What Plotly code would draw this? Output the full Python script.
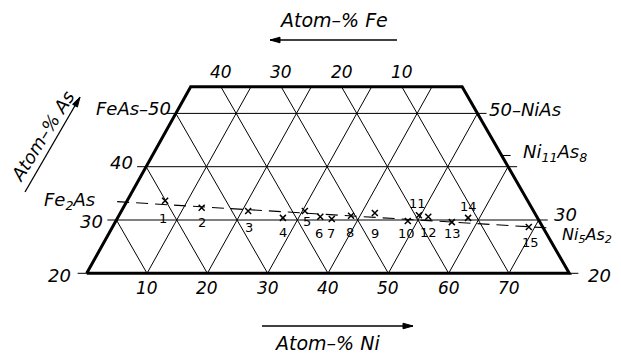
import plotly.graph_objects as go

# ---------------- data (atom-%) ----------------
point_labels = ["1", "2", "3", "4", "5", "6", "7", "8", "9", "10", "11", "12", "13", "14", "15"]
point_ni = [6.3, 13.0, 21.0, 27.4, 30.4, 33.5, 35.6, 38.5, 42.2, 48.4, 49.7, 51.4, 55.8, 58.1, 69.0]
point_as = [33.6, 32.3, 31.7, 30.4, 31.7, 30.6, 30.2, 30.8, 31.3, 29.8, 30.9, 30.6, 29.6, 30.4, 28.7]

as_ticks = [20, 30, 40, 50]
ni_ticks = [10, 20, 30, 40, 50, 60, 70]
fe_ticks = [40, 30, 20, 10]
grid_ni = [10, 20, 30, 40, 50, 60, 70]
grid_fe = [10, 20, 30, 40, 50, 60, 70]
as_min, as_max = 20, 55

fe2as = (0.0, 100 / 3)        # (Ni, As)
ni5as2 = (500 / 7, 200 / 7)
ni11as8 = (1100 / 19, 800 / 19)

# ---------------- layout helpers ----------------
SKEW = 0.4925   # horizontal shift of the As direction (display)
EXT = 1.5       # tick extension beyond edges (x units)
OFF = 8         # page body margin
W, H = 621 - OFF, 353 - OFF


def X(ni, a):
    return ni + SKEW * a


def P(px, py):
    """page pixel -> paper coords"""
    return (px - OFF) / W, 1 - (py - OFF) / H


fig = go.Figure()

# grid lines
gx, gy = [], []
for ni in grid_ni:
    top = min(as_max, 100 - ni)
    gx += [X(ni, as_min), X(ni, top), None]
    gy += [as_min, top, None]
for fe in grid_fe:
    top = min(as_max, 100 - fe)
    gx += [X(100 - fe - as_min, as_min), X(100 - fe - top, top), None]
    gy += [as_min, top, None]
for a in as_ticks:
    gx += [X(0, a) - EXT, X(100 - a, a) + EXT, None]
    gy += [a, a, None]
gx += [X(ni11as8[0], ni11as8[1]), X(ni11as8[0], ni11as8[1]) + EXT, None]
gy += [ni11as8[1], ni11as8[1], None]
fig.add_trace(go.Scatter(x=gx, y=gy, mode="lines", line=dict(color="black", width=1),
                         hoverinfo="skip", showlegend=False))

# boundary
bn = [0, 100 - as_min, 100 - as_max, 0, 0]
ba = [as_min, as_min, as_max, as_max, as_min]
fig.add_trace(go.Scatter(x=[X(n, a) for n, a in zip(bn, ba)], y=ba, mode="lines",
                         line=dict(color="black", width=3), hoverinfo="skip", showlegend=False))

# dashed tie line Fe2As - Ni5As2
ts = [-0.022, 1.012]
dx = [X(fe2as[0] + t * (ni5as2[0] - fe2as[0]), fe2as[1] + t * (ni5as2[1] - fe2as[1])) for t in ts]
dy = [fe2as[1] + t * (ni5as2[1] - fe2as[1]) for t in ts]
fig.add_trace(go.Scatter(x=dx, y=dy, mode="lines", line=dict(color="black", width=1.1, dash="12px,7px"),
                         hoverinfo="skip", showlegend=False))

# sample points
fig.add_trace(go.Scatter(x=[X(n, a) for n, a in zip(point_ni, point_as)], y=point_as, mode="markers",
                         marker=dict(symbol="x-thin", size=6, line=dict(color="black", width=1.5)),
                         showlegend=False))

ann = []
FONT = dict(family="DejaVu Sans", color="black")

# point labels
lab_dy = [-18, -15, -17, -15, -11, -17, -15, -17, -20, -12, 12, -16, -11, 11, -16]
lab_dx = [-2, 0, 1, 0, 2, -1, -1, -1, 0, -1, -1, 0, 1, 0, 2]
for t, n, a, sy, sx in zip(point_labels, point_ni, point_as, lab_dy, lab_dx):
    ann.append(dict(x=X(n, a), y=a, text=t, showarrow=False, yshift=sy, xshift=sx,
                    font=dict(size=13, **FONT)))

# bottom Ni ticks
for n in ni_ticks:
    ann.append(dict(x=X(n, as_min), y=as_min, text=f"<i>{n}</i>", showarrow=False, yshift=-15,
                    font=dict(size=17, **FONT)))
# top Fe ticks
for fe in fe_ticks:
    ann.append(dict(x=X(100 - fe - as_max, as_max), y=as_max, text=f"<i>{fe}</i>", showarrow=False,
                    yshift=15, font=dict(size=17, **FONT)))
# left As ticks
left_txt = {20: "20", 30: "30", 40: "40", 50: "FeAs–50"}
left_dx = {20: -14, 30: -11, 40: -11, 50: -3}
left_dy = {20: -2, 30: -1, 40: 4, 50: 5}
for a in as_ticks:
    ann.append(dict(x=X(0, a), y=a, text=f"<i>{left_txt[a]}</i>", showarrow=False, xanchor="right",
                    xshift=left_dx[a], yshift=left_dy[a], font=dict(size=18, **FONT)))
# right labels
ann.append(dict(x=X(50, 50), y=50, text="<i>50–NiAs</i>", showarrow=False, xanchor="left",
                xshift=10, yshift=4, font=dict(size=18, **FONT)))
ann.append(dict(x=X(70, 30), y=30, text="<i>30</i>", showarrow=False, xanchor="left",
                xshift=13, yshift=6, font=dict(size=18, **FONT)))
ann.append(dict(x=X(80, 20), y=20, text="<i>20</i>", showarrow=False, xanchor="left",
                xshift=17, yshift=-2, font=dict(size=18, **FONT)))
ann.append(dict(x=X(*ni11as8), y=ni11as8[1], text="<i>Ni<sub>11</sub>As<sub>8</sub></i>", showarrow=False,
                xanchor="left", xshift=19, yshift=2, font=dict(size=18, **FONT)))
ann.append(dict(x=X(*ni5as2), y=ni5as2[1], text="<i>Ni<sub>5</sub>As<sub>2</sub></i>", showarrow=False,
                xanchor="left", xshift=17, yshift=-8, font=dict(size=16, **FONT)))
ann.append(dict(x=X(*fe2as), y=fe2as[1], text="<i>Fe<sub>2</sub>As</i>", showarrow=False,
                xanchor="right", xshift=-29, yshift=1, font=dict(size=18, **FONT)))

# axis titles
for txt, (px, py), ang, fs in [("Atom–% Fe", (334, 20), 0, 19), ("Atom–% Ni", (327, 343), 0, 19),
                               ("Atom–% As", (42, 136), -58, 18)]:
    xp, yp = P(px, py)
    ann.append(dict(x=xp, y=yp, xref="paper", yref="paper", xanchor="center", yanchor="middle",
                    text=f"<i>{txt}</i>", showarrow=False,
                    textangle=ang, font=dict(size=fs, **FONT)))

# arrows as shapes (line + small head)
shapes = []
for (hx, hy), (tx, ty) in [((270, 40), (397, 40)), ((413, 326), (262, 326)), ((80, 97), (25, 192))]:
    x0, y0 = P(tx, ty)
    x1, y1 = P(hx, hy)
    shapes.append(dict(type="line", xref="paper", yref="paper", x0=x0, y0=y0, x1=x1, y1=y1,
                       line=dict(color="black", width=1.3)))
    L = ((hx - tx) ** 2 + (hy - ty) ** 2) ** 0.5
    ux, uy = (hx - tx) / L, (hy - ty) / L
    nx, ny = -uy, ux
    pts = [(hx, hy), (hx - 10 * ux + 2.8 * nx, hy - 10 * uy + 2.8 * ny),
           (hx - 10 * ux - 2.8 * nx, hy - 10 * uy - 2.8 * ny)]
    pp = [P(a, b) for a, b in pts]
    path = "M {} {} L {} {} L {} {} Z".format(pp[0][0], pp[0][1], pp[1][0], pp[1][1], pp[2][0], pp[2][1])
    shapes.append(dict(type="path", xref="paper", yref="paper", path=path,
                       fillcolor="black", line=dict(color="black", width=1)))

fig.update_layout(
    width=W, height=H, autosize=False,
    margin=dict(l=0, r=0, t=0, b=0),
    paper_bgcolor="white", plot_bgcolor="white",
    xaxis=dict(range=[-(27.28 - OFF) / 6.0325, (W - (27.28 - OFF)) / 6.0325], visible=False, fixedrange=True),
    yaxis=dict(range=[20 - (H - (273.3 - OFF)) / 5.33, 20 + (273.3 - OFF) / 5.33], visible=False,
               fixedrange=True),
    annotations=ann,
    shapes=shapes,
    showlegend=False,
)

fig.write_html("out.html")
